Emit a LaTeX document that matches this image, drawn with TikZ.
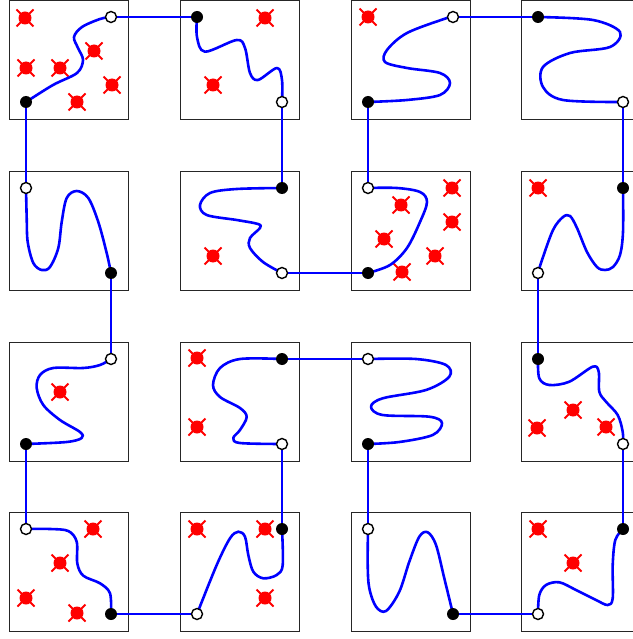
\documentclass[tikz,border=0pt]{standalone}
\usetikzlibrary{backgrounds}
\pgfdeclarelayer{back}
\pgfdeclarelayer{mid}
\pgfsetlayers{back,mid,main}
\tikzset{
  filledpt/.style={circle, fill=black, minimum size=12pt, inner sep=0pt},
  openpt/.style={circle, draw=black, fill=white, line width=1.4pt, minimum size=11pt, inner sep=0pt},
  cell/.style={draw=black!85, line width=0.9pt},
  route/.style={draw=blue, line width=2.6pt, line join=round},
  xmark/.pic={
    \fill[red] (0,0) circle (6.5);
    \draw[red, line width=1.8pt] (-8.5,-8.5) -- (8.5,8.5) (-8.5,8.5) -- (8.5,-8.5);
  }
}
\begin{document}
\begin{tikzpicture}[x=1pt, y=-1pt]
\useasboundingbox (0,0) rectangle (632,639);
\clip (0,0) rectangle (632,639);

% endpoint nodes
\node[filledpt] (f00) at (26,102) {};  \node[openpt] (o00) at (111,17) {};
\node[filledpt] (f01) at (197,17) {};  \node[openpt] (o01) at (282,102) {};
\node[filledpt] (f02) at (368,102) {}; \node[openpt] (o02) at (453,17) {};
\node[filledpt] (f03) at (538,17) {};  \node[openpt] (o03) at (623,102) {};
\node[filledpt] (f10) at (111,273) {}; \node[openpt] (o10) at (26,188) {};
\node[filledpt] (f11) at (282,188) {}; \node[openpt] (o11) at (282,273) {};
\node[filledpt] (f12) at (368,273) {}; \node[openpt] (o12) at (368,188) {};
\node[filledpt] (f13) at (623,188) {}; \node[openpt] (o13) at (538,273) {};
\node[filledpt] (f20) at (26,444) {};  \node[openpt] (o20) at (111,359) {};
\node[filledpt] (f21) at (282,359) {}; \node[openpt] (o21) at (282,444) {};
\node[filledpt] (f22) at (368,444) {}; \node[openpt] (o22) at (368,359) {};
\node[filledpt] (f23) at (538,359) {}; \node[openpt] (o23) at (623,444) {};
\node[filledpt] (f30) at (111,614) {}; \node[openpt] (o30) at (26,529) {};
\node[filledpt] (f31) at (282,529) {}; \node[openpt] (o31) at (197,614) {};
\node[filledpt] (f32) at (453,614) {}; \node[openpt] (o32) at (368,529) {};
\node[filledpt] (f33) at (623,529) {}; \node[openpt] (o33) at (538,614) {};

\begin{pgfonlayer}{back}
  \foreach \cx in {9,180,351,521.5}
    \foreach \cy in {0.6,171,342,512.3}
      \draw[cell] (\cx,\cy) rectangle ++(119.5,119.3);
  \foreach \p in {(25,18),(26,68),(60,68),(94,51),(112,85),(77,102),
                  (265,18),(213,85),(368,17),(213,256),
                  (452,188),(401,205),(452,222),(384,239),(435,256),(402,272),
                  (538,188),(60,392),(197,358),(197,427),
                  (537,428),(573,410),(606,427),
                  (93,529),(60,563),(26,598),(77,613),
                  (197,529),(265,529),(265,598),
                  (538,529),(573,563)}
    \pic at \p {xmark};
\end{pgfonlayer}

\begin{pgfonlayer}{mid}
  % connectors between cells
  \draw[route] (o00.center) -- (f01.center);
  \draw[route] (o01.center) -- (f11.center);
  \draw[route] (o11.center) -- (f12.center);
  \draw[route] (o12.center) -- (f02.center);
  \draw[route] (o02.center) -- (f03.center);
  \draw[route] (o03.center) -- (f13.center);
  \draw[route] (o13.center) -- (f23.center);
  \draw[route] (o23.center) -- (f33.center);
  \draw[route] (o33.center) -- (f32.center);
  \draw[route] (o32.center) -- (f22.center);
  \draw[route] (o22.center) -- (f21.center);
  \draw[route] (o21.center) -- (f31.center);
  \draw[route] (o31.center) -- (f30.center);
  \draw[route] (o30.center) -- (f20.center);
  \draw[route] (o20.center) -- (f10.center);
  \draw[route] (o10.center) -- (f00.center);

  % curves inside cells
  \draw[route] plot[smooth, tension=0.55] coordinates {(f00.center) (53,85) (77,73) (83,60) (78,48) (74,37) (82,27) (100,19) (o00.center)};
  \draw[route] plot[smooth, tension=0.55] coordinates {(f01.center) (197,37) (205,51.7) (236.7,40) (245,48) (250,73) (258,80) (277,68) (282,80) (o01.center)};
  \draw[route] plot[smooth, tension=0.55] coordinates {(f02.center) (407,100) (440,95) (450,83) (440,73) (407,68) (385,62) (387,50) (407,33) (447,18) (o02.center)};
  \draw[route] plot[smooth, tension=0.55] coordinates {(f03.center) (593,20) (620,32) (610,47) (570,53) (543,67) (543,87) (563,100) (o03.center)};
  \draw[route] plot[smooth, tension=0.55] coordinates {(f10.center) (106.7,253) (98.3,222) (88.3,198) (76.7,191) (66.7,198) (61.7,222) (58.3,248) (50,267) (41.7,270) (33.3,263) (27.7,242) (26.7,218) (o10.center)};
  \draw[route] plot[smooth, tension=0.55] coordinates {(f11.center) (236.7,189) (210,193) (200,205) (206.7,215) (236.7,220) (258,224) (260,228) (250,238) (250,248) (263,262) (o11.center)};
  \draw[route] plot[smooth, tension=0.55] coordinates {(f12.center) (390,265) (407,248) (420,222) (427,202) (420,192) (397,188) (o12.center)};
  \draw[route] plot[smooth, tension=0.55] coordinates {(f13.center) (623,232) (620,255) (613,267) (605,270) (597,267) (587,252) (577,228) (570,216) (563,217) (553,230) (542,260) (o13.center)};
  \draw[route] plot[smooth, tension=0.55] coordinates {(f20.center) (66.7,442) (81.7,438) (80,432) (60,420) (43.3,405) (36.7,388) (40,375) (53.3,368) (83.3,368) (100,365) (o20.center)};
  \draw[route] plot[smooth, tension=0.55] coordinates {(f21.center) (240,359) (220,368) (213,385) (220,397) (240,408) (246.7,417) (240,430) (233.3,438) (240,443) (o21.center)};
  \draw[route] plot[smooth, tension=0.55] coordinates {(f22.center) (399.3,442) (432.7,435) (442,423) (429.3,416.7) (382.7,415) (371,406.7) (382.7,398.3) (426,390) (449.3,376.7) (446,365) (416,359) (o22.center)};
  \draw[route] plot[smooth, tension=0.55] coordinates {(f23.center) (539.3,378.3) (549.3,385) (569.3,381.7) (592.7,366.7) (598.7,371.7) (599.3,391.7) (606,401.7) (617.7,415) (622.7,431.7) (o23.center)};
  \draw[route] plot[smooth, tension=0.55] coordinates {(f30.center) (110,593.3) (100,583.3) (83.3,575.7) (77.3,563.3) (76.7,541.7) (68.3,531) (50,529) (o30.center)};
  \draw[route] plot[smooth, tension=0.55] coordinates {(f31.center) (282.7,565) (276.7,575) (263.3,578.3) (253.3,571.7) (248.3,555) (245,536.7) (238.3,531.7) (230,538.3) (216.7,565) (o31.center)};
  \draw[route] plot[smooth, tension=0.55] coordinates {(f32.center) (444.3,578.3) (436,545) (427.7,532.3) (419.3,536.7) (409.3,561.7) (399.3,591.7) (386,611) (376,606.7) (369.3,588.3) (367.7,565) (o32.center)};
  \draw[route] plot[smooth, tension=0.55] coordinates {(f33.center) (615.3,540) (612.7,565) (612.7,598.3) (607.7,605) (596,600) (576,590) (559.3,582.3) (546,585) (539.3,595) (o33.center)};
\end{pgfonlayer}
\end{tikzpicture}
\end{document}
